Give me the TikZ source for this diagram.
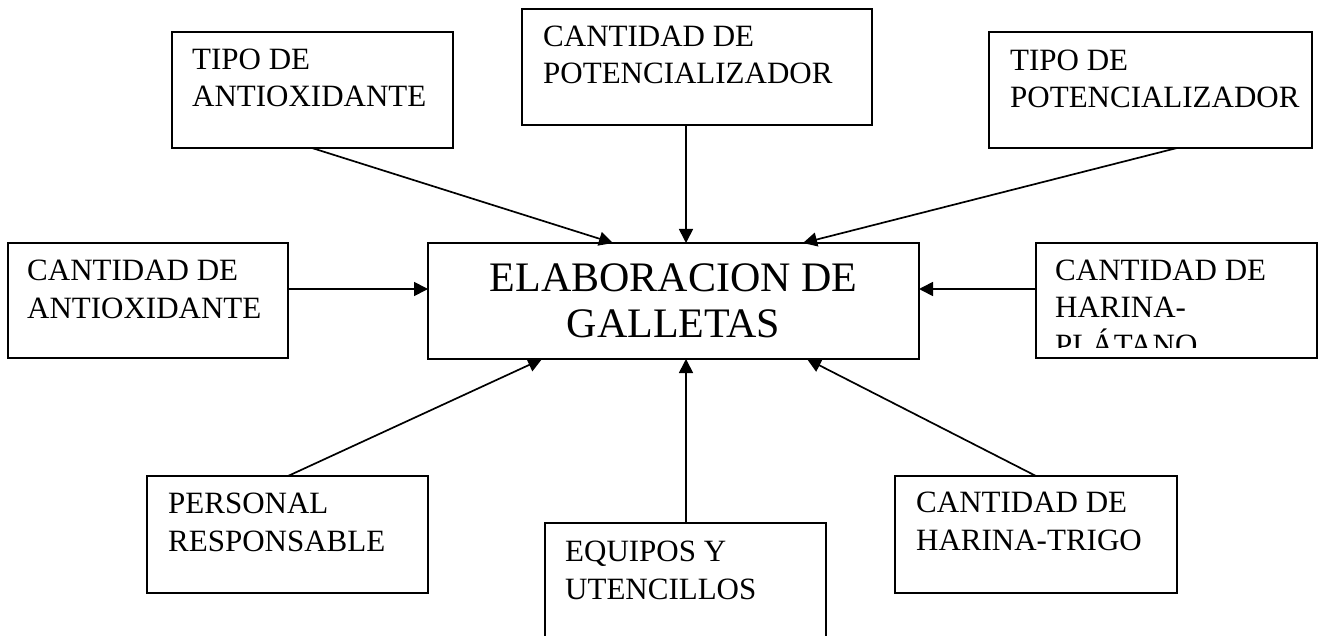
\documentclass[tikz,border=0pt]{standalone}
\usepackage{fontspec}
\setmainfont{Liberation Serif}
\usetikzlibrary{arrows.meta}
\begin{document}
\begin{tikzpicture}[x=1pt,y=-1pt,
  box/.style={draw, line width=1.7pt, rectangle, inner sep=0pt, outer sep=0pt, anchor=north west},
  lbl/.style={anchor=base west, inner sep=0pt, align=left, font=\fontsize{31}{37.5}\selectfont},
  conn/.style={line width=1.7pt, -{Triangle[length=14pt,width=14pt]}}]
\useasboundingbox[fill=white] (0,0) rectangle (1340,636);

% boxes
\node[box, minimum width=281pt, minimum height=116pt] (ta) at (172,32) {};
\node[box, minimum width=350pt, minimum height=116pt] (cp) at (522,9) {};
\node[box, minimum width=323pt, minimum height=116pt] (tp) at (989,32) {};
\node[box, minimum width=280pt, minimum height=115pt] (ca) at (8,243) {};
\node[box, minimum width=491pt, minimum height=116pt] (c) at (428,243) {};
\node[box, minimum width=281pt, minimum height=115pt] (hp) at (1036,243) {};
\node[box, minimum width=281pt, minimum height=117pt] (pr) at (147,476) {};
\node[box, minimum width=282pt, minimum height=117pt] (ht) at (895,476) {};
% open-bottom box
\coordinate (eqbl) at (545,660);
\coordinate (eqtl) at (545,523);
\coordinate (eqtr) at (826,523);
\coordinate (eqbr) at (826,660);
\draw[line width=1.7pt] (eqbl) -- (eqtl) -- (eqtr) -- (eqbr);
\coordinate (eqtop) at (686,523);

% texts (anchor = baseline of the last line)
\node[lbl] (tat) at (192,107) {TIPO DE\\ANTIOXIDANTE};
\node[lbl] (cpt) at (543,84) {CANTIDAD DE\\POTENCIALIZADOR};
\node[lbl] (tpt) at (1010,108) {TIPO DE\\POTENCIALIZADOR};
\node[lbl] (cat) at (27,318) {CANTIDAD DE\\ANTIOXIDANTE};
\begin{scope}
\clip (1036,243) rectangle (1317,347);
\node[lbl] (hpt) at (1055,355) {CANTIDAD DE\\HARINA-\\PLÁTANO};
\end{scope}
\node[lbl] (prt) at (168,551) {PERSONAL\\RESPONSABLE};
\node[lbl] (eqt) at (565,599) {EQUIPOS Y\\UTENCILLOS};
\node[lbl] (htt) at (916,550) {CANTIDAD DE\\HARINA-TRIGO};
\node[anchor=base, inner sep=0pt, align=center, font=\fontsize{42}{46}\selectfont] (ct) at (673.5,337) {ELABORACION DE\\GALLETAS};

% connectors
\draw[conn] ([xshift=140pt]ta.south west) -- ([xshift=185pt]c.north west);
\draw[conn] ([xshift=164pt]cp.south west) -- ([xshift=258pt]c.north west);
\draw[conn] ([xshift=188pt]tp.south west) -- ([xshift=375pt]c.north west);
\draw[conn] ([yshift=-46pt]ca.north east) -- ([yshift=-46pt]c.north west);
\draw[conn] ([yshift=-46pt]hp.north west) -- ([yshift=-46pt]c.north east);
\draw[conn] ([xshift=141pt]pr.north west) -- ([xshift=114pt]c.south west);
\draw[conn] (eqtop) -- ([xshift=258pt]c.south west);
\draw[conn] ([xshift=141pt]ht.north west) -- ([xshift=379pt]c.south west);
\end{tikzpicture}
\end{document}
